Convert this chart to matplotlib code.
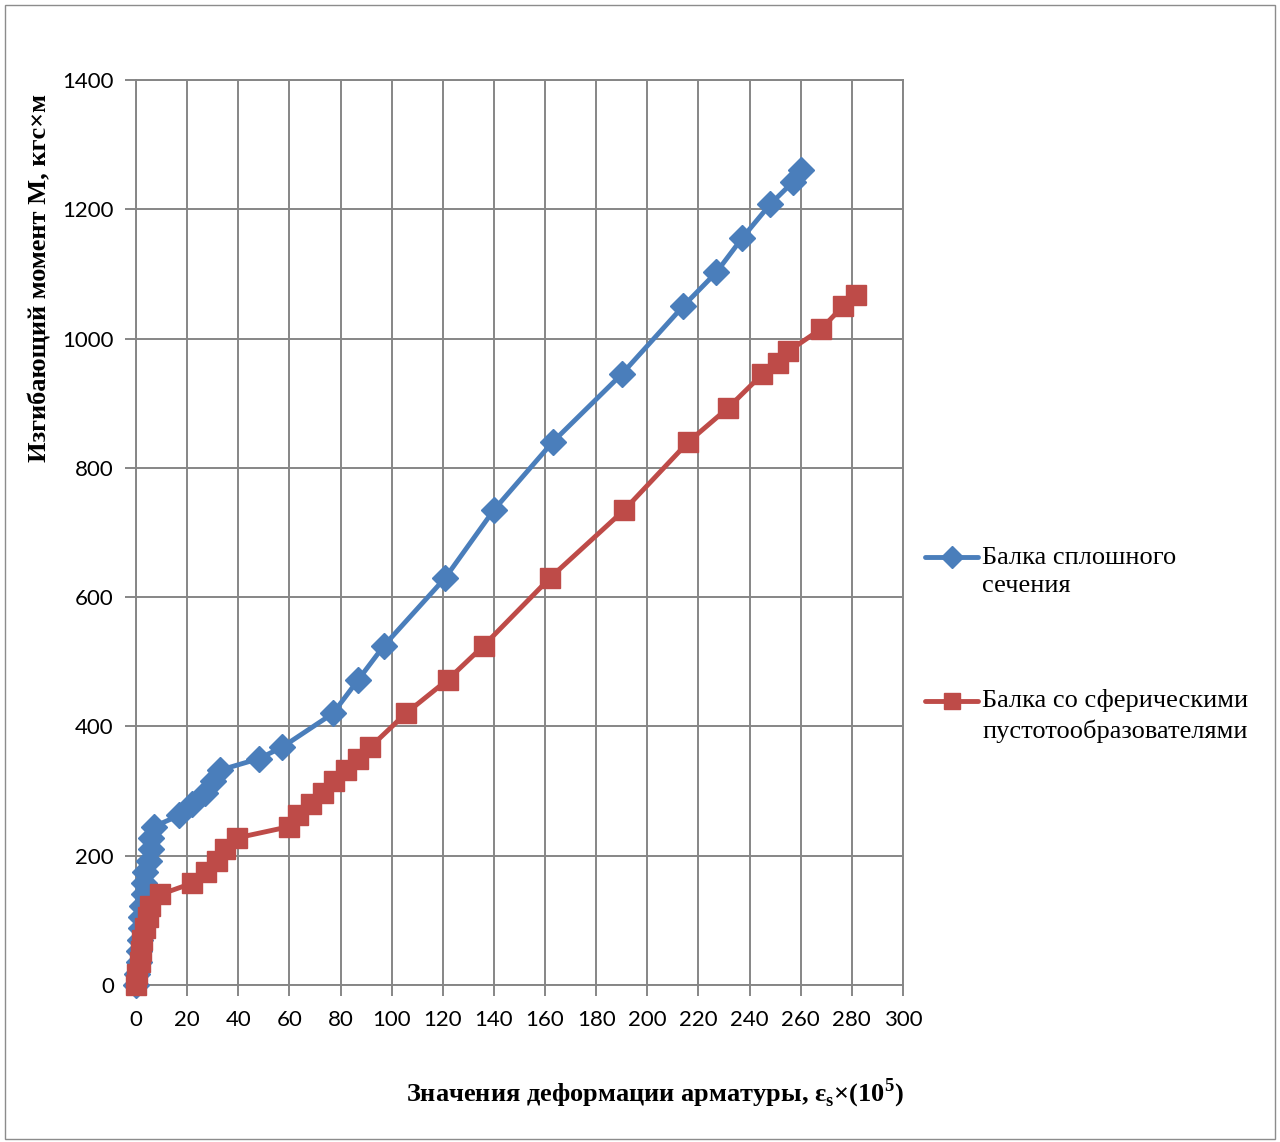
import matplotlib
matplotlib.use('Agg')
from matplotlib import pyplot as plt
from matplotlib.patches import Rectangle
from matplotlib.lines import Line2D

# Балка сплошного сечения
solid_x = [0, 0.5, 1, 1, 1.5, 2, 2, 2.5, 3, 3, 3.5, 5, 6, 6, 7,
           17, 22, 27, 30, 33, 48, 57, 77, 87, 97, 121, 140, 163, 190,
           214, 227, 237, 248, 257, 260]
solid_y = [0, 17.5, 35, 52.5, 70, 87.5, 105, 122.5, 140, 157.5, 175, 192.5, 210, 227.5, 245,
           262.5, 280, 297.5, 315, 332.5, 350, 367.5, 420, 472.5, 525, 630, 735, 840, 945,
           1050, 1102.5, 1155, 1207.5, 1242.5, 1260]

# Балка со сферическими пустотообразователями
hollow_x = [0, 0.5, 1.5, 2, 2.5, 3.5, 4.5, 5.5, 9.5, 22, 27.5, 31.5, 35, 39.5,
            60, 63.5, 68.5, 73, 77.5, 82, 87, 91.5, 105.5, 122, 136, 162, 191,
            216, 231.5, 245, 251, 255, 268, 276.5, 281.5]
hollow_y = [0, 17.5, 35, 52.5, 70, 87.5, 105, 122.5, 140, 157.5, 175, 192.5, 210, 227.5,
            245, 262.5, 280, 297.5, 315, 332.5, 350, 367.5, 420, 472.5, 525, 630, 735,
            840, 892.5, 945, 962.5, 980, 1015, 1050, 1067.5]

labels = ['Балка сплошного\nсечения', 'Балка со сферическими\nпустотообразователями']
colors = ['#4A7EBB', '#BE4B48']
markers = [('D', 13), ('s', 14)]

x_ticks = list(range(0, 301, 20))
y_ticks = list(range(0, 1401, 200))

plt.rcParams['mathtext.fontset'] = 'custom'
plt.rcParams['mathtext.bf'] = 'Liberation Serif:bold'
plt.rcParams['mathtext.rm'] = 'Liberation Serif:bold'

grid_col = '#868686'
W, H = 1280.0, 1142.0

fig = plt.figure(figsize=(12.8, 11.42), dpi=100)
fig.patches.append(Rectangle((0.004, 0.003), 0.992, 0.993, transform=fig.transFigure,
                             fill=False, edgecolor='#8c8c8c', linewidth=1.0))
ax = fig.add_axes([0.10625, 0.1375, 0.59922, 0.79245])

ax.plot(solid_x, solid_y, color=colors[0], linewidth=3.5, marker=markers[0][0],
        markersize=markers[0][1], clip_on=False, zorder=3)
ax.plot(hollow_x, hollow_y, color=colors[1], linewidth=3.5, marker=markers[1][0],
        markersize=markers[1][1], clip_on=False, zorder=4)

ax.set_xlim(0, 300)
ax.set_ylim(0, 1400)
ax.set_xticks(x_ticks)
ax.set_yticks(y_ticks)
ax.grid(True, color=grid_col, linewidth=1.4)
ax.set_axisbelow(True)
for s in ax.spines.values():
    s.set_color(grid_col)
    s.set_linewidth(1.4)
ax.tick_params(axis='both', colors=grid_col, length=8, width=1.4, labelcolor='black',
               labelsize=16)
for lab in ax.get_xticklabels() + ax.get_yticklabels():
    lab.set_family('Lato')
ax.tick_params(axis='x', pad=10)
ax.tick_params(axis='y', pad=8)

ax.set_ylabel('Изгибающий момент М, кгс×м', family='Liberation Serif',
              fontweight='bold', fontsize=19)
ax.yaxis.set_label_coords((40 - 136) / 767.0, (985 - 278) / 905.0)
ax.set_xlabel('Значения деформации арматуры, ε$_\\mathbf{s}$×(10$^\\mathbf{5}$)',
              family='Liberation Serif', fontweight='bold', fontsize=19)
ax.xaxis.set_label_coords((655 - 136) / 767.0, -(1093 - 985) / 905.0)
ax.xaxis.label.set_va('center')
ax.yaxis.label.set_va('center')

# legend, handle aligned with first text line
for i, yc in enumerate([557, 701]):
    fig.add_artist(Line2D([925 / W, 978 / W], [1 - yc / H, 1 - yc / H],
                          transform=fig.transFigure, color=colors[i], linewidth=3.5,
                          solid_capstyle='round'))
    fig.add_artist(Line2D([951.5 / W], [1 - yc / H], transform=fig.transFigure,
                          color=colors[i], marker=markers[i][0],
                          markersize=markers[i][1] * 0.85, linestyle='none'))
    fig.text(982 / W, 1 - (yc + 15) / H, labels[i], family='Liberation Serif',
             fontsize=19, va='center', ha='left', linespacing=1.4)

fig.savefig('out.png', dpi=100)
